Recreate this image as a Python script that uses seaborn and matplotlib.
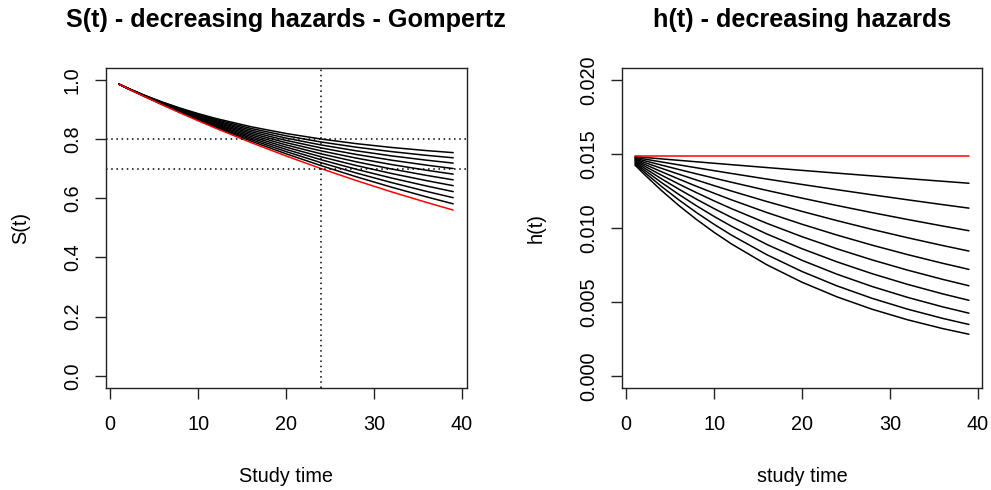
import matplotlib
matplotlib.use("Agg")
import matplotlib.pyplot as plt
import pandas as pd
import seaborn as sns

# Follow-up times at which each curve is evaluated
study_time = [1, 2, 4, 6, 8, 10, 12, 16, 20, 24, 28, 32, 36, 39]

# Survival S(t), Gompertz scenarios (S(24) = 0.71 ... 0.80)
surv_01 = [0.9853, 0.9708, 0.9427, 0.9155, 0.8893, 0.8641, 0.8397, 0.7934, 0.7502, 0.7100, 0.6724, 0.6373, 0.6044, 0.5811]
surv_02 = [0.9853, 0.9709, 0.9431, 0.9164, 0.8908, 0.8663, 0.8427, 0.7985, 0.7577, 0.7200, 0.6851, 0.6529, 0.6229, 0.6019]
surv_03 = [0.9853, 0.9710, 0.9435, 0.9172, 0.8923, 0.8685, 0.8459, 0.8036, 0.7651, 0.7300, 0.6978, 0.6683, 0.6412, 0.6224]
surv_04 = [0.9854, 0.9711, 0.9439, 0.9181, 0.8938, 0.8708, 0.8490, 0.8088, 0.7726, 0.7400, 0.7104, 0.6836, 0.6593, 0.6425]
surv_05 = [0.9854, 0.9712, 0.9443, 0.9191, 0.8954, 0.8732, 0.8523, 0.8141, 0.7802, 0.7500, 0.7230, 0.6988, 0.6771, 0.6622]
surv_06 = [0.9854, 0.9714, 0.9448, 0.9201, 0.8970, 0.8756, 0.8556, 0.8195, 0.7878, 0.7600, 0.7355, 0.7138, 0.6945, 0.6815]
surv_07 = [0.9854, 0.9715, 0.9453, 0.9211, 0.8987, 0.8781, 0.8590, 0.8249, 0.7955, 0.7700, 0.7479, 0.7286, 0.7117, 0.7004]
surv_08 = [0.9855, 0.9716, 0.9457, 0.9221, 0.9005, 0.8807, 0.8625, 0.8304, 0.8032, 0.7800, 0.7602, 0.7431, 0.7285, 0.7188]
surv_09 = [0.9855, 0.9718, 0.9463, 0.9232, 0.9023, 0.8833, 0.8661, 0.8360, 0.8110, 0.7900, 0.7724, 0.7575, 0.7449, 0.7367]
surv_10 = [0.9856, 0.9719, 0.9468, 0.9243, 0.9042, 0.8861, 0.8697, 0.8417, 0.8188, 0.8000, 0.7844, 0.7716, 0.7609, 0.7541]
# Constant-hazard (exponential) reference
surv_exp = [0.9852, 0.9707, 0.9423, 0.9147, 0.8879, 0.8619, 0.8367, 0.7884, 0.7429, 0.7000, 0.6596, 0.6215, 0.5857, 0.5601]

# Hazard h(t) for the same scenarios
haz_01 = [0.014812, 0.014761, 0.014661, 0.014562, 0.014463, 0.014365, 0.014267, 0.014074, 0.013884, 0.013696, 0.013511, 0.013328, 0.013148, 0.013014]
haz_02 = [0.014759, 0.014657, 0.014454, 0.014255, 0.014058, 0.013864, 0.013672, 0.013297, 0.012932, 0.012578, 0.012232, 0.011897, 0.011570, 0.011332]
haz_03 = [0.014704, 0.014549, 0.014242, 0.013941, 0.013647, 0.013360, 0.013078, 0.012532, 0.012009, 0.011508, 0.011027, 0.010567, 0.010126, 0.009807]
haz_04 = [0.014648, 0.014436, 0.014023, 0.013621, 0.013231, 0.012852, 0.012484, 0.011779, 0.011113, 0.010486, 0.009893, 0.009335, 0.008808, 0.008432]
haz_05 = [0.014588, 0.014319, 0.013796, 0.013292, 0.012807, 0.012339, 0.011888, 0.011036, 0.010244, 0.009510, 0.008828, 0.008195, 0.007607, 0.007194]
haz_06 = [0.014526, 0.014197, 0.013562, 0.012955, 0.012376, 0.011822, 0.011293, 0.010306, 0.009404, 0.008582, 0.007831, 0.007146, 0.006521, 0.006088]
haz_07 = [0.014460, 0.014069, 0.013319, 0.012609, 0.011936, 0.011300, 0.010697, 0.009586, 0.008591, 0.007699, 0.006900, 0.006184, 0.005541, 0.005104]
haz_08 = [0.014391, 0.013935, 0.013066, 0.012252, 0.011488, 0.010771, 0.010100, 0.008880, 0.007807, 0.006864, 0.006034, 0.005305, 0.004664, 0.004235]
haz_09 = [0.014318, 0.013794, 0.012803, 0.011884, 0.011030, 0.010238, 0.009502, 0.008186, 0.007052, 0.006075, 0.005234, 0.004509, 0.003884, 0.003473]
haz_10 = [0.014241, 0.013646, 0.012529, 0.011503, 0.010562, 0.009697, 0.008904, 0.007506, 0.006327, 0.005334, 0.004497, 0.003791, 0.003196, 0.002812]
haz_exp = [0.014862, 0.014862, 0.014862, 0.014862, 0.014862, 0.014862, 0.014862,
           0.014862, 0.014862, 0.014862, 0.014862, 0.014862, 0.014862, 0.014862]

# Reference lines on the survival panel
ref_surv = [0.8, 0.7]
ref_time = 24

surv_ticks = [0.0, 0.2, 0.4, 0.6, 0.8, 1.0]
surv_tick_labels = ["0.0", "0.2", "0.4", "0.6", "0.8", "1.0"]
haz_ticks = [0.0, 0.005, 0.010, 0.015, 0.020]
haz_tick_labels = ["0.000", "0.005", "0.010", "0.015", "0.020"]
time_ticks = [0, 10, 20, 30, 40]

surv_curves = [surv_01, surv_02, surv_03, surv_04, surv_05,
               surv_06, surv_07, surv_08, surv_09, surv_10]
haz_curves = [haz_01, haz_02, haz_03, haz_04, haz_05,
              haz_06, haz_07, haz_08, haz_09, haz_10]

rows = []
for k, (s, h) in enumerate(zip(surv_curves, haz_curves)):
    for t, sv, hv in zip(study_time, s, h):
        rows.append({"curve": k, "t": t, "S": sv, "h": hv})
gomp = pd.DataFrame(rows)
expo = pd.DataFrame({"t": study_time, "S": surv_exp, "h": haz_exp})

sns.set_style("white")
plt.rcParams["font.family"] = ["Liberation Sans", "DejaVu Sans"]
plt.rcParams["text.color"] = "black"
plt.rcParams["axes.labelcolor"] = "black"

fig = plt.figure(figsize=(9.91, 4.90), dpi=100)
ax1 = fig.add_axes([0.1065, 0.2088, 0.3643, 0.6524])
ax2 = fig.add_axes([0.6273, 0.2088, 0.3639, 0.6524])

LW = 1.1
dots = (0, (1.0, 2.4))

sns.lineplot(data=gomp, x="t", y="S", units="curve", estimator=None,
             color="black", lw=LW, sort=False, ax=ax1, legend=False)
sns.lineplot(data=expo, x="t", y="S", color="red", lw=LW, sort=False, ax=ax1)
for yv in ref_surv:
    ax1.axhline(yv, color="black", lw=1.1, linestyle=dots)
ax1.axvline(ref_time, color="black", lw=1.1, linestyle=dots)

sns.lineplot(data=gomp, x="t", y="h", units="curve", estimator=None,
             color="black", lw=LW, sort=False, ax=ax2, legend=False)
sns.lineplot(data=expo, x="t", y="h", color="red", lw=LW, sort=False, ax=ax2)

ax1.set_xlim(-0.52, 40.52)
ax1.set_ylim(-0.04, 1.04)
ax2.set_xlim(-0.52, 40.52)
ax2.set_ylim(-0.0008, 0.0208)

ax1.set_yticks(surv_ticks)
ax1.set_yticklabels(surv_tick_labels)
ax2.set_yticks(haz_ticks)
ax2.set_yticklabels(haz_tick_labels)

for ax in (ax1, ax2):
    ax.set_xticks(time_ticks)
    ax.set_xticklabels([str(v) for v in time_ticks])
    ax.set_xlabel("")
    ax.set_ylabel("")
    for sp in ax.spines.values():
        sp.set_visible(True)
        sp.set_color("#222222")
        sp.set_linewidth(1.0)
    ax.tick_params(direction="out", length=8, width=1.0, color="#222222",
                   labelsize=14.3, labelcolor="black")
    ax.tick_params(axis="x", pad=12, bottom=True)
    ax.tick_params(axis="y", pad=9, left=True, labelrotation=90)
    for lab in ax.get_yticklabels():
        lab.set_va("center")

fs_title = 18.2
fig.text(286 / 991, 1 - 20 / 490, "S(t) - decreasing hazards - Gompertz",
         ha="center", va="center", fontsize=fs_title, fontweight="bold")
fig.text(802 / 991, 1 - 20 / 490, "h(t) - decreasing hazards",
         ha="center", va="center", fontsize=fs_title, fontweight="bold")
fig.text(286 / 991, 1 - 476 / 490, "Study time", ha="center", va="center", fontsize=14.3)
fig.text(802 / 991, 1 - 476 / 490, "study time", ha="center", va="center", fontsize=14.3)
fig.text(21 / 991, 1 - 228 / 490, "S(t)", ha="center", va="center",
         rotation=90, fontsize=14.3)
fig.text(536 / 991, 1 - 228 / 490, "h(t)", ha="center", va="center",
         rotation=90, fontsize=14.3)

fig.savefig("out.png", dpi=100, facecolor="white")
